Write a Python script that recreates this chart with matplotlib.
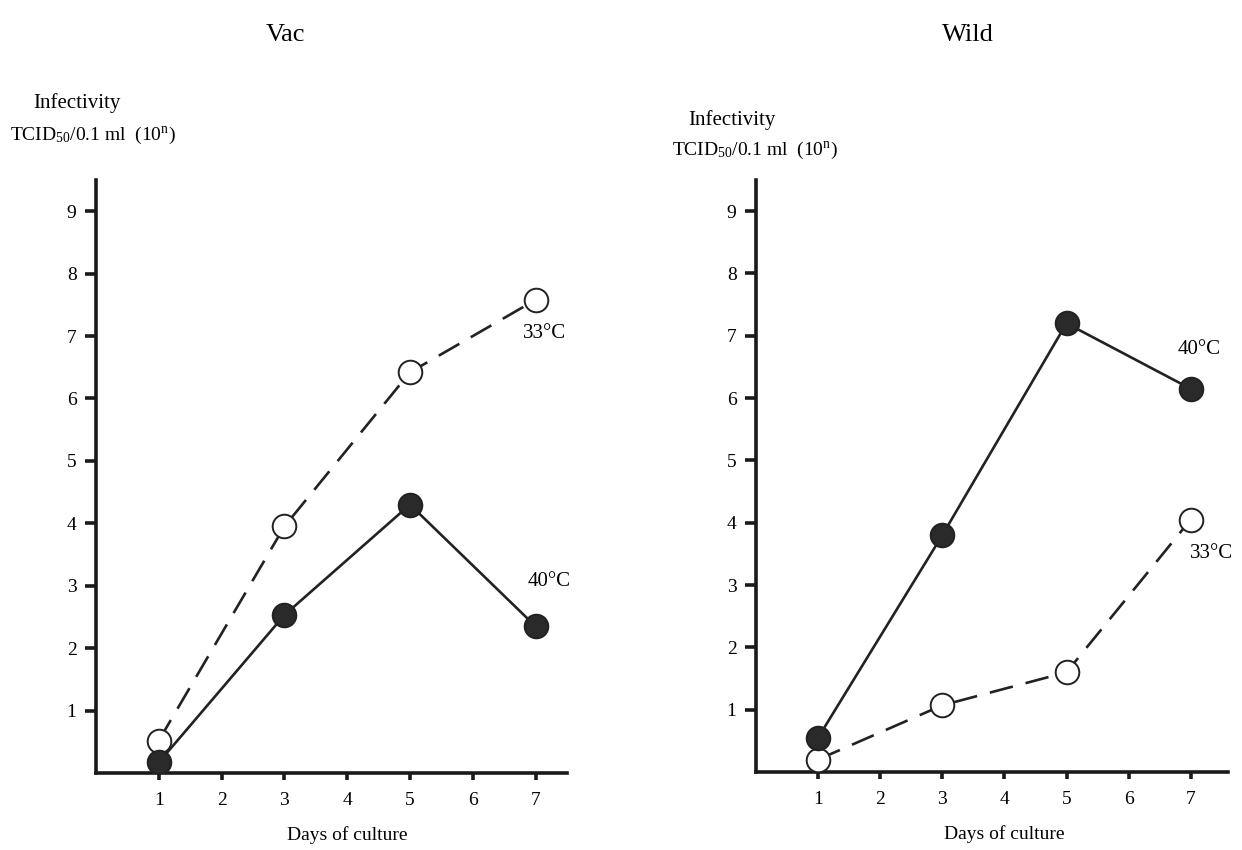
import matplotlib.pyplot as plt

plt.rcParams['font.family'] = ['Liberation Serif', 'DejaVu Serif']
plt.rcParams['mathtext.fontset'] = 'custom'
plt.rcParams['mathtext.rm'] = 'Liberation Serif'
plt.rcParams['mathtext.it'] = 'Liberation Serif:italic'

days = [1, 3, 5, 7]
vac_33 = [0.52, 3.95, 6.42, 7.58]
vac_40 = [0.17, 2.53, 4.30, 2.35]
wild_40 = [0.55, 3.80, 7.20, 6.15]
wild_33 = [0.20, 1.07, 1.60, 4.05]

panels = [
    # title, open series, filled series, axes rect, xmax, label spots, title x
    ("Vac", vac_33, vac_40, [0.0773, 0.0906, 0.3792, 0.6976], 7.5,
     (7.14, 7.04), (7.22, 3.07), 0.2295),
    ("Wild", wild_33, wild_40, [0.6087, 0.0918, 0.38, 0.6964], 7.6,
     (7.34, 3.5), (7.13, 6.78), 0.779),
]

fig = plt.figure(figsize=(12.42, 8.5), dpi=100)

for title, s33, s40, rect, xmax, pos33, pos40, tx in panels:
    ax = fig.add_axes(rect)
    ax.plot(days, s33, color='#222222', lw=1.9, dashes=(9, 5),
            marker='o', ms=17, mfc='white', mec='#222222', mew=1.4, zorder=3)
    ax.plot(days, s40, color='#222222', lw=1.9,
            marker='o', ms=17, mfc='#2a2a2a', mec='#222222', mew=1.4, zorder=3)
    ax.text(*pos33, "33°C", fontsize=15, ha='center', va='center')
    ax.text(*pos40, "40°C", fontsize=15, ha='center', va='center')

    ax.set_xlim(0, xmax)
    ax.set_ylim(0, 9.5)
    ax.set_xticks(range(1, 8))
    ax.set_yticks(range(1, 10))
    for side in ('top', 'right'):
        ax.spines[side].set_visible(False)
    for side in ('left', 'bottom'):
        ax.spines[side].set_linewidth(2.6)
        ax.spines[side].set_color('#1a1a1a')
    ax.tick_params(axis='y', length=8, width=2.6, pad=6, labelsize=14, color='#1a1a1a')
    ax.tick_params(axis='x', length=5, width=2.6, pad=9, labelsize=14, color='#1a1a1a')

    ax.set_xlabel("Days of culture", fontsize=14)
    ax.xaxis.set_label_coords(4 / xmax, -0.09)
    fig.text(tx, 0.959, title, fontsize=19, ha='center', va='center')

fig.text(0.062, 0.879, "Infectivity", fontsize=15, ha='center', va='center')
fig.text(0.008, 0.841, "TCID$_{50}$/0.1 ml  (10$^{\\mathrm{n}}$)", fontsize=14,
         ha='left', va='center')
fig.text(0.589, 0.859, "Infectivity", fontsize=15, ha='center', va='center')
fig.text(0.541, 0.823, "TCID$_{50}$/0.1 ml  (10$^{\\mathrm{n}}$)", fontsize=14,
         ha='left', va='center')

fig.savefig("out.png", dpi=100, facecolor='white')
